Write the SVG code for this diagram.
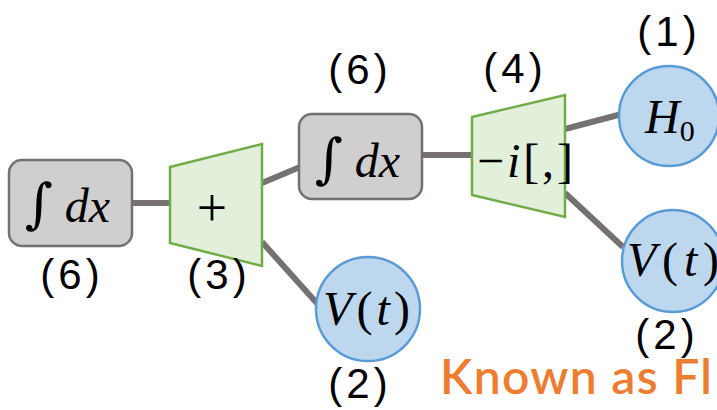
<svg xmlns="http://www.w3.org/2000/svg" width="717" height="410" viewBox="0 0 717 410">
<style>
.box{fill:#d0cece;stroke:#767171;stroke-width:2.5}
.trap{fill:#e2efda;stroke:#70ad47;stroke-width:2.5}
.circ{fill:#bdd7ee;stroke:#5b9bd5;stroke-width:2.5}
.conn{stroke:#767171;stroke-width:6;fill:none}
.lbl{font-family:"Liberation Sans","DejaVu Sans",sans-serif;font-size:42px;fill:#000;text-anchor:middle;letter-spacing:4px}
.math{font-family:"Liberation Serif","DejaVu Serif",serif;font-style:italic;font-size:48px;fill:#000}
.up{font-style:normal}
.int{font-style:normal;font-family:"DejaVu Serif",serif;font-size:54px}
.note{font-family:"Lato","Open Sans",sans-serif;font-size:48px;font-weight:600;fill:#ed7d31}
</style>
<g id="connectors">
<line class="conn" x1="132" y1="203" x2="171" y2="203"/>
<line class="conn" x1="262" y1="183" x2="300" y2="167"/>
<line class="conn" x1="262" y1="242" x2="323" y2="310"/>
<line class="conn" x1="422" y1="155" x2="473" y2="155"/>
<line class="conn" x1="565" y1="129" x2="622" y2="114"/>
<line class="conn" x1="565" y1="193" x2="623" y2="247"/>
</g>
<g id="int1">
<rect class="box" x="9" y="160" width="123" height="86" rx="13"/>
<text class="math" x="25" y="222" textLength="85" lengthAdjust="spacing"><tspan class="int">∫</tspan> dx</text>
<text class="lbl" x="72" y="289">(6)</text>
</g>
<g id="plus">
<polygon class="trap" points="170,167 262,144 262,266 170,243"/>
<text x="212" y="226" font-family="Liberation Serif,serif" font-size="54" text-anchor="middle">+</text>
<text class="lbl" x="219" y="289">(3)</text>
</g>
<g id="int2">
<rect class="box" x="299" y="114" width="123" height="85" rx="13"/>
<text class="math" x="315" y="177" textLength="85" lengthAdjust="spacing"><tspan class="int">∫</tspan> dx</text>
<text class="lbl" x="360" y="84">(6)</text>
</g>
<g id="comm">
<polygon class="trap" points="472,117 565,95 565,217 472,195"/>
<text class="math" x="477" y="177" textLength="96" lengthAdjust="spacing"><tspan class="up">−</tspan>i<tspan class="up">[,]</tspan></text>
<text class="lbl" x="515" y="83">(4)</text>
</g>
<g id="h0">
<circle class="circ" cx="669" cy="116" r="50"/>
<text class="math" x="645" y="133" font-size="40">H<tspan class="up" font-size="30" dy="8">0</tspan></text>
<text class="lbl" x="669" y="46">(1)</text>
</g>
<g id="v1">
<circle class="circ" cx="673" cy="261" r="51"/>
<text class="math" x="627" y="276" textLength="92" lengthAdjust="spacing">V<tspan class="up">(</tspan>t<tspan class="up">)</tspan></text>
<text class="lbl" x="667" y="349">(2)</text>
</g>
<g id="v2">
<circle class="circ" cx="368" cy="309" r="52"/>
<text class="math" x="323" y="325" textLength="87" lengthAdjust="spacing">V<tspan class="up">(</tspan>t<tspan class="up">)</tspan></text>
<text class="lbl" x="360" y="398">(2)</text>
</g>
<text class="note" x="440" y="394" textLength="272" lengthAdjust="spacing">Known as Fl</text>
</svg>
